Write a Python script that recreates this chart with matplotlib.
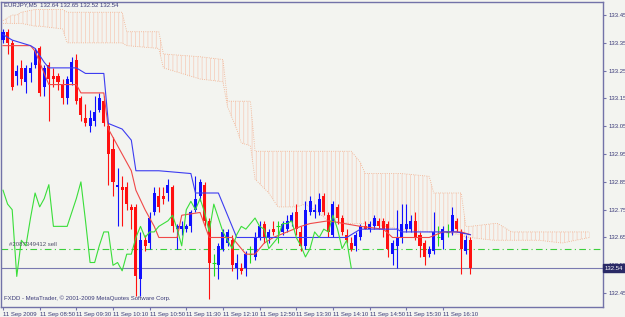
import matplotlib
matplotlib.use("Agg")
import matplotlib.pyplot as plt
import numpy as np

# EURJPY M5, 11 Sep 2009, bar 0 = 08:10
opens = [133.36, 133.39, 133.35, 133.23, 133.26, 133.21, 133.24, 133.27, 133.33, 133.19,
         133.27, 133.23, 133.23, 133.20, 133.15, 133.21, 133.29, 133.15, 133.08, 133.05,
         133.07, 133.11, 133.14, 133.05, 132.97, 132.83, 132.83, 132.83, 132.76, 132.76,
         132.50, 132.64, 132.63, 132.74, 132.80, 132.80, 132.81, 132.83, 132.68, 132.68,
         132.68, 132.69, 132.75, 132.80, 132.84, 132.71, 132.56, 132.55, 132.61, 132.63,
         132.64, 132.54, 132.54, 132.54, 132.59, 132.58, 132.65, 132.70, 132.65, 132.68,
         132.69, 132.67, 132.68, 132.71, 132.74, 132.67, 132.62, 132.74, 132.74, 132.74,
         132.80, 132.73, 132.66, 132.76, 132.72, 132.66, 132.63, 132.62, 132.65, 132.69,
         132.68, 132.69, 132.71, 132.71, 132.70, 132.59, 132.62, 132.65, 132.68, 132.68,
         132.71, 132.66, 132.63, 132.59, 132.60, 132.65, 132.64, 132.67, 132.67, 132.71,
         132.67, 132.60, 132.64]
highs = [133.40, 133.40, 133.36, 133.27, 133.29, 133.27, 133.28, 133.33, 133.34, 133.27,
         133.28, 133.26, 133.24, 133.22, 133.23, 133.30, 133.31, 133.16, 133.13, 133.11,
         133.16, 133.17, 133.16, 133.06, 133.01, 132.90, 132.87, 132.85, 132.77, 132.77,
         132.67, 132.66, 132.74, 132.83, 132.83, 132.83, 132.86, 132.84, 132.70, 132.71,
         132.70, 132.75, 132.87, 132.86, 132.85, 132.72, 132.59, 132.63, 132.68, 132.68,
         132.66, 132.59, 132.56, 132.60, 132.62, 132.67, 132.71, 132.71, 132.68, 132.71,
         132.71, 132.71, 132.73, 132.74, 132.77, 132.69, 132.78, 132.80, 132.77, 132.81,
         132.81, 132.74, 132.78, 132.77, 132.73, 132.68, 132.65, 132.67, 132.70, 132.71,
         132.71, 132.73, 132.72, 132.72, 132.71, 132.64, 132.75, 132.77, 132.77, 132.73,
         132.74, 132.67, 132.64, 132.62, 132.74, 132.69, 132.69, 132.70, 132.76, 132.72,
         132.68, 132.66, 132.65]
lows = [133.35, 133.31, 133.18, 133.20, 133.20, 133.17, 133.21, 133.26, 133.16, 133.16,
        133.07, 133.19, 133.18, 133.13, 133.13, 133.20, 133.13, 133.07, 133.05, 133.03,
        133.05, 133.10, 133.05, 132.84, 132.80, 132.69, 132.69, 132.75, 132.68, 132.44,
        132.44, 132.60, 132.61, 132.73, 132.74, 132.77, 132.78, 132.67, 132.61, 132.66,
        132.67, 132.67, 132.74, 132.78, 132.69, 132.43, 132.51, 132.50, 132.60, 132.62,
        132.53, 132.50, 132.52, 132.51, 132.56, 132.57, 132.64, 132.63, 132.63, 132.66,
        132.63, 132.66, 132.67, 132.69, 132.66, 132.60, 132.61, 132.73, 132.72, 132.73,
        132.73, 132.65, 132.65, 132.70, 132.66, 132.63, 132.60, 132.60, 132.64, 132.68,
        132.67, 132.68, 132.68, 132.65, 132.58, 132.55, 132.54, 132.63, 132.67, 132.67,
        132.64, 132.58, 132.55, 132.58, 132.59, 132.62, 132.61, 132.65, 132.66, 132.67,
        132.52, 132.59, 132.52]
closes = [133.39, 133.35, 133.19, 133.25, 133.22, 133.26, 133.26, 133.32, 133.17, 133.26,
          133.22, 133.22, 133.21, 133.15, 133.22, 133.28, 133.14, 133.09, 133.06, 133.08,
          133.10, 133.15, 133.06, 132.95, 132.85, 132.84, 132.82, 132.77, 132.75, 132.51,
          132.64, 132.62, 132.72, 132.81, 132.76, 132.79, 132.84, 132.69, 132.69, 132.69,
          132.69, 132.74, 132.79, 132.85, 132.71, 132.56, 132.56, 132.62, 132.67, 132.67,
          132.55, 132.56, 132.53, 132.59, 132.59, 132.65, 132.69, 132.65, 132.67, 132.67,
          132.69, 132.70, 132.71, 132.73, 132.68, 132.62, 132.75, 132.78, 132.75, 132.79,
          132.74, 132.67, 132.77, 132.72, 132.67, 132.64, 132.61, 132.66, 132.69, 132.68,
          132.70, 132.72, 132.69, 132.68, 132.61, 132.63, 132.65, 132.70, 132.70, 132.71,
          132.65, 132.62, 132.58, 132.61, 132.67, 132.65, 132.68, 132.67, 132.73, 132.68,
          132.61, 132.64, 132.54]

# Ichimoku lines (bar index, price)
tenkan_x = [0, 6, 7, 9, 10, 16, 17, 22, 23, 24, 28, 29, 31, 33, 34, 38, 39, 43, 45, 50,
            53, 55, 57, 59, 62, 65, 67, 71, 78, 83, 85, 89, 93, 96, 100, 102]
tenkan_y = [133.34, 133.34, 133.32, 133.24, 133.20, 133.20, 133.17, 133.17, 133.04, 133.01,
            132.89, 132.82, 132.75, 132.69, 132.65, 132.65, 132.73, 132.74, 132.65, 132.65,
            132.59, 132.59, 132.63, 132.65, 132.67, 132.69, 132.70, 132.71, 132.69, 132.68,
            132.65, 132.65, 132.65, 132.67, 132.67, 132.66]
kijun_x = [0, 2, 6, 7, 9, 10, 16, 18, 22, 23, 26, 28, 29, 34, 41, 42, 47, 51, 75, 78,
           86, 87, 99, 102]
kijun_y = [133.38, 133.36, 133.34, 133.33, 133.28, 133.26, 133.26, 133.24, 133.24, 133.06,
           133.04, 133.00, 132.89, 132.89, 132.88, 132.81, 132.81, 132.65, 132.65, 132.68,
           132.68, 132.67, 132.67, 132.66]
chikou_shift = 26

cloud_x = [0, 2, 3, 4, 7, 8, 13, 14, 26, 27, 34, 35, 43, 48, 49, 51, 52, 54, 55, 58,
           60, 64, 66, 68, 71, 76, 78, 79, 87, 93, 94, 95, 100, 101, 102, 107, 108, 110,
           111, 117, 122, 128]
cloud_top = [133.43, 133.45, 133.45, 133.46, 133.47, 133.47, 133.47, 133.46, 133.46, 133.39,
             133.39, 133.31, 133.30, 133.29, 133.14, 133.14, 133.14, 133.14, 132.96, 132.96,
             132.96, 132.96, 132.96, 132.96, 132.96, 132.96, 132.92, 132.88, 132.88, 132.87,
             132.81, 132.81, 132.81, 132.69, 132.69, 132.70, 132.70, 132.68, 132.67, 132.67,
             132.67, 132.67]
cloud_bot = [133.42, 133.42, 133.42, 133.42, 133.41, 133.41, 133.40, 133.35, 133.35, 133.34,
             133.33, 133.26, 133.22, 133.21, 133.12, 133.04, 132.99, 132.98, 132.86, 132.81,
             132.76, 132.76, 132.77, 132.75, 132.71, 132.70, 132.70, 132.70, 132.68, 132.67,
             132.67, 132.67, 132.66, 132.65, 132.65, 132.64, 132.64, 132.64, 132.64, 132.64,
             132.63, 132.65]

order_price = 132.61
order_label = "#2087349412 sell"
bid = 132.54
title = "EURJPY,M5  132.64 132.65 132.52 132.54"
copyright_text = "FXDD - MetaTrader, \u00a9 2001-2009 MetaQuotes Software Corp."

ytick_vals = [132.45, 132.55, 132.65, 132.75, 132.85, 132.95, 133.05, 133.15, 133.25,
              133.35, 133.45]
xtick_pos = [0, 8, 16, 24, 32, 40, 48, 56, 64, 72, 80, 88, 96]
xtick_labels = ["11 Sep 2009", "11 Sep 08:50", "11 Sep 09:30", "11 Sep 10:10",
                "11 Sep 10:50", "11 Sep 11:30", "11 Sep 12:10", "11 Sep 12:50",
                "11 Sep 13:30", "11 Sep 14:10", "11 Sep 14:50", "11 Sep 15:30",
                "11 Sep 16:10"]

bg = "#f3f4f0"
frame = "#7272a8"
txt = "#3a3a78"
fs = 4.3
plt.rcParams["font.family"] = ["Liberation Sans", "DejaVu Sans"]
plt.rcParams["hatch.linewidth"] = 0.5

fig = plt.figure(figsize=(6.25, 3.17), dpi=100, facecolor=bg)
ax = fig.add_axes([1.5 / 625, 10 / 317, 601.8 / 625, 305.3 / 317], facecolor=bg)

# cloud
ax.fill_between(cloud_x, cloud_bot, cloud_top, facecolor="none", edgecolor="#f6cab6",
                hatch="||||", linewidth=0, zorder=1)
ax.plot(cloud_x, cloud_top, ls=":", color="#f2ac88", lw=0.6, zorder=1)
ax.plot(cloud_x, cloud_bot, ls=":", color="#f2ac88", lw=0.6, zorder=1)

# candles
o = np.array(opens)
h = np.array(highs)
l = np.array(lows)
c = np.array(closes)
x = np.arange(len(o))
cols = np.where(c > o, "#1010ff", np.where(c < o, "#ff1010", "#20d820"))
ax.vlines(x, l, h, colors=cols, lw=0.8, zorder=3)
body = np.abs(c - o)
ax.bar(x, body, bottom=np.minimum(o, c), width=0.66, color=cols, linewidth=0, zorder=3)
doji = c == o
ax.hlines(o[doji], x[doji] - 0.4, x[doji] + 0.4, colors="#20d820", lw=0.8, zorder=3)

# indicator lines
ax.plot(tenkan_x, tenkan_y, color="#f04848", lw=0.8, zorder=4)
ax.plot(kijun_x, kijun_y, color="#3c3cf0", lw=0.8, zorder=4)
ax.plot(x[:-chikou_shift], c[chikou_shift:], color="#3ade3a", lw=0.8, zorder=4)

# order and bid lines
ax.axhline(order_price, color="#3ccf3c", lw=0.8, ls=(0, (6, 3, 1, 3)), zorder=2)
ax.text(1.2, order_price + 0.006, order_label, fontsize=fs, color="#50506a",
        va="bottom", ha="left", zorder=5)
ax.axhline(bid, color="#7a7ab0", lw=0.8, zorder=2)

ax.set_xlim(-0.33, 131.0)
ax.set_ylim(132.40, 133.498)

ax.yaxis.tick_right()
ax.set_yticks(ytick_vals)
ax.set_yticklabels([f"{v:.2f}" for v in ytick_vals])
ax.set_xticks(xtick_pos)
ax.set_xticklabels(xtick_labels, ha="left")
ax.tick_params(axis="both", colors=frame, labelcolor=txt, labelsize=fs, length=2.5,
               width=0.8, direction="out")
ax.tick_params(axis="y", pad=1.0)
ax.tick_params(axis="x", pad=1.2)
for s in ax.spines.values():
    s.set_color(frame)
    s.set_linewidth(1.0)

ax.annotate(f"{bid:.2f}", xy=(1.0, bid), xycoords=("axes fraction", "data"),
            xytext=(1.0, 0), textcoords="offset points", fontsize=fs, color="white",
            va="center", ha="left", zorder=10, annotation_clip=False,
            bbox=dict(boxstyle="square,pad=0.25", fc="#2a2a66", ec="#2a2a66"))

ax.text(0.004, 0.989, title, transform=ax.transAxes, fontsize=fs, color=txt,
        va="center", ha="left")
ax.text(0.004, 0.03, copyright_text, transform=ax.transAxes, fontsize=fs, color=txt,
        va="center", ha="left")

fig.savefig("out.png", dpi=100, facecolor=bg)
